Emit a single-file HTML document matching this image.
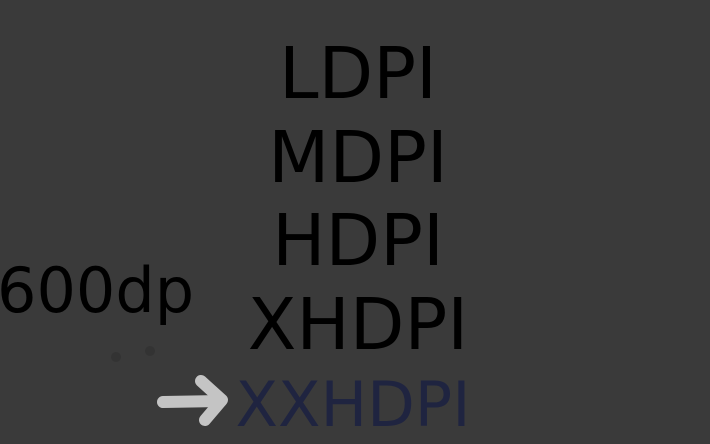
<!DOCTYPE html>
<html><head><style>
html,body{margin:0;padding:0;background:#3a3a3a;}
svg{display:block}
text{font-family:"DejaVu Sans","Liberation Sans",sans-serif;}
</style></head><body>
<svg width="710" height="444" viewBox="0 0 710 444">
<rect width="710" height="444" fill="#3a3a3a"/>
<g fill="#000" font-size="71" text-anchor="middle">
<text x="358" y="98">LDPI</text>
<text x="358" y="182">MDPI</text>
<text x="358" y="265">HDPI</text>
<text x="358" y="349">XHDPI</text>
</g>
<text x="-3" y="312" font-size="62" fill="#000">600dp</text>
<text x="353" y="426" font-size="62" fill="#1f2440" text-anchor="middle">XXHDPI</text>
<circle cx="116" cy="357" r="5" fill="#333"/>
<circle cx="150" cy="351" r="5" fill="#333"/>
<g stroke="#c4c4c4" stroke-linecap="round" stroke-linejoin="round" fill="none">
<path d="M163 402 L221 401" stroke-width="12"/>
<path d="M201 381 L222 400 L205 420" stroke-width="12"/>
</g>
</svg>
</body></html>
